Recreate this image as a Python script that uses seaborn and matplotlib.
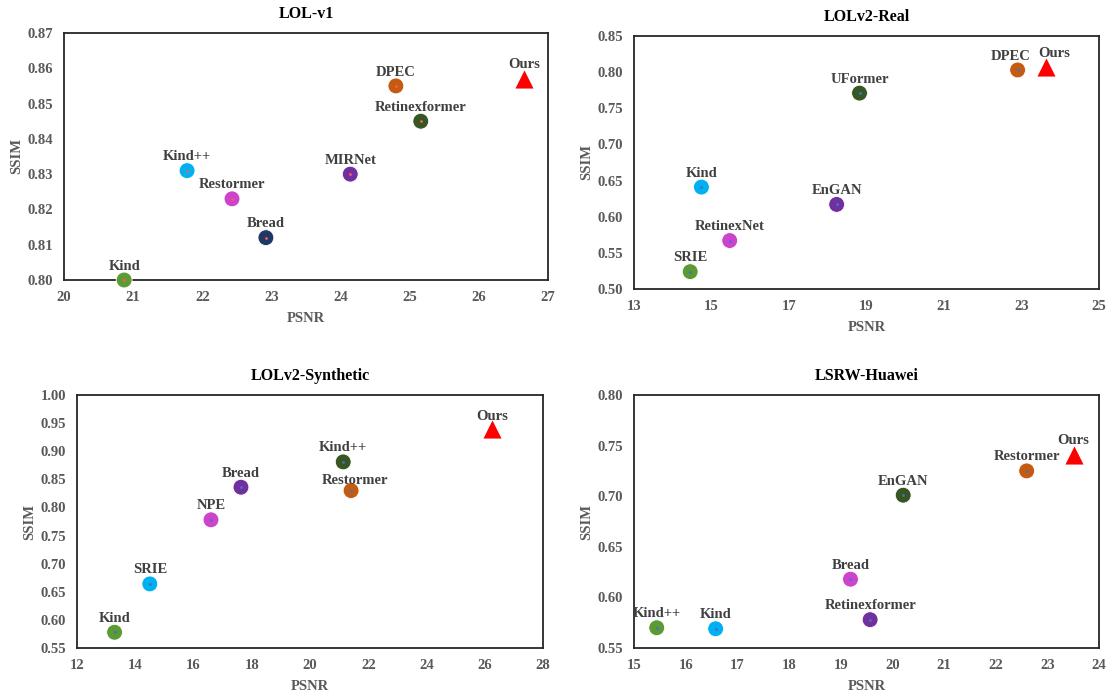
import seaborn as sns
import matplotlib.pyplot as plt
import pandas as pd

# colours used for the method markers
GREEN = "#5B9A35"
CYAN = "#00B0F0"
MAGENTA = "#CC44CC"
NAVY = "#1F3864"
PURPLE = "#7030A0"
ORANGE = "#C55A11"
DKGREEN = "#375623"
RED = "#FF0000"

# ---- LOL-v1
v1_names = ["Kind", "Kind++", "Restormer", "Bread", "MIRNet", "DPEC", "Retinexformer", "Ours"]
v1_psnr = [20.87, 21.78, 22.43, 22.92, 24.14, 24.80, 25.16, 26.65]
v1_ssim = [0.800, 0.831, 0.823, 0.812, 0.830, 0.855, 0.845, 0.857]
v1_cols = [GREEN, CYAN, MAGENTA, NAVY, PURPLE, ORANGE, DKGREEN, RED]

# ---- LOLv2-Real
real_names = ["Kind", "SRIE", "RetinexNet", "EnGAN", "UFormer", "DPEC", "Ours"]
real_psnr = [14.74, 14.45, 15.47, 18.23, 18.82, 22.90, 23.62]
real_ssim = [0.641, 0.524, 0.567, 0.617, 0.771, 0.803, 0.807]
real_cols = [CYAN, GREEN, MAGENTA, PURPLE, DKGREEN, ORANGE, RED]

# ---- LOLv2-Synthetic
syn_names = ["Kind", "SRIE", "NPE", "Bread", "Kind++", "Restormer", "Ours"]
syn_psnr = [13.29, 14.50, 16.60, 17.63, 21.14, 21.41, 26.24]
syn_ssim = [0.578, 0.664, 0.778, 0.836, 0.881, 0.830, 0.940]
syn_cols = [GREEN, CYAN, MAGENTA, PURPLE, DKGREEN, ORANGE, RED]

# ---- LSRW-Huawei
lsrw_names = ["Kind++", "Kind", "Bread", "Retinexformer", "EnGAN", "Restormer", "Ours"]
lsrw_psnr = [15.44, 16.58, 19.19, 19.57, 20.21, 22.60, 23.51]
lsrw_ssim = [0.570, 0.569, 0.618, 0.578, 0.701, 0.725, 0.741]
lsrw_cols = [GREEN, CYAN, MAGENTA, PURPLE, DKGREEN, ORANGE, RED]

panels = [
    ("LOL-v1", v1_names, v1_psnr, v1_ssim, v1_cols, (20, 27), range(20, 28, 1),
     (0.80, 0.87), [0.80, 0.81, 0.82, 0.83, 0.84, 0.85, 0.86, 0.87], "#FF5A5A"),
    ("LOLv2-Real", real_names, real_psnr, real_ssim, real_cols, (13, 25), range(13, 26, 2),
     (0.50, 0.85), [0.50, 0.55, 0.60, 0.65, 0.70, 0.75, 0.80, 0.85], "#4472C4"),
    ("LOLv2-Synthetic", syn_names, syn_psnr, syn_ssim, syn_cols, (12, 28), range(12, 29, 2),
     (0.55, 1.00), [0.55, 0.60, 0.65, 0.70, 0.75, 0.80, 0.85, 0.90, 0.95, 1.00], "#4472C4"),
    ("LSRW-Huawei", lsrw_names, lsrw_psnr, lsrw_ssim, lsrw_cols, (15, 24), range(15, 25, 1),
     (0.55, 0.80), [0.55, 0.60, 0.65, 0.70, 0.75, 0.80], "#4472C4"),
]

# label nudges (points) where the text is not straight above the marker
nudge = {
    (1, "DPEC"): (-5, 7.5),
    (1, "Ours"): (6, 7.5),
    (2, "Restormer"): (3, 4.5),
    (2, "Ours"): (0, 6),
}

# axes boxes in pixels: left, top, right, bottom
W, H = 1110, 692
boxes = [(64, 33, 548, 280), (634, 36, 1099, 289), (77, 395, 543, 648), (634, 395, 1099, 648)]

sns.set_theme(style="white")
plt.rcParams["font.family"] = ["Liberation Serif", "DejaVu Serif"]
plt.rcParams["font.weight"] = "bold"

fig = plt.figure(figsize=(W / 100, H / 100), dpi=100)
TICK = "#595959"
LAB = "#404040"

for i, (title, names, px, py, cols, xl, xt, yl, yt, dotc) in enumerate(panels):
    l, t, r, b = boxes[i]
    ax = fig.add_axes([l / W, 1 - b / H, (r - l) / W, (b - t) / H])
    df = pd.DataFrame({"name": names, "PSNR": px, "SSIM": py})
    pal = dict(zip(names, cols))
    circ = df[df.name != "Ours"]
    ours = df[df.name == "Ours"]
    sns.scatterplot(data=circ, x="PSNR", y="SSIM", hue="name", palette=pal, s=130,
                    edgecolor="white", linewidth=0.6, legend=False, ax=ax, zorder=3, clip_on=False)
    sns.scatterplot(data=circ, x="PSNR", y="SSIM", color=dotc, s=4, linewidth=0,
                    legend=False, ax=ax, zorder=4, clip_on=False)
    sns.scatterplot(data=ours, x="PSNR", y="SSIM", color=RED, marker="^", s=170, linewidth=0,
                    legend=False, ax=ax, zorder=3, clip_on=False)
    for n, x, y in zip(names, px, py):
        off = nudge.get((i, n), (0, 7.5))
        ax.annotate(n, (x, y), xytext=off, textcoords="offset points", ha="center",
                    va="baseline", fontsize=10.5, fontweight="bold", color=LAB, zorder=5)
    ax.set_xlim(*xl)
    ax.set_ylim(*yl)
    ax.set_xticks(list(xt))
    ax.set_yticks(yt)
    ax.set_yticklabels(["%.2f" % v for v in yt])
    ax.tick_params(length=0, labelsize=10.5, labelcolor=TICK, pad=8)
    for lab in ax.get_xticklabels() + ax.get_yticklabels():
        lab.set_fontweight("bold")
    ax.set_xlabel("PSNR", fontsize=10.5, fontweight="bold", color=TICK, labelpad=6)
    ax.set_ylabel("SSIM", fontsize=10.5, fontweight="bold", color=TICK, labelpad=3)
    ax.set_title(title, fontsize=11.5, fontweight="bold", color="black", pad=11)
    for sp in ax.spines.values():
        sp.set_color("#262626")
        sp.set_linewidth(1.3)

fig.savefig("out.png", dpi=100)
